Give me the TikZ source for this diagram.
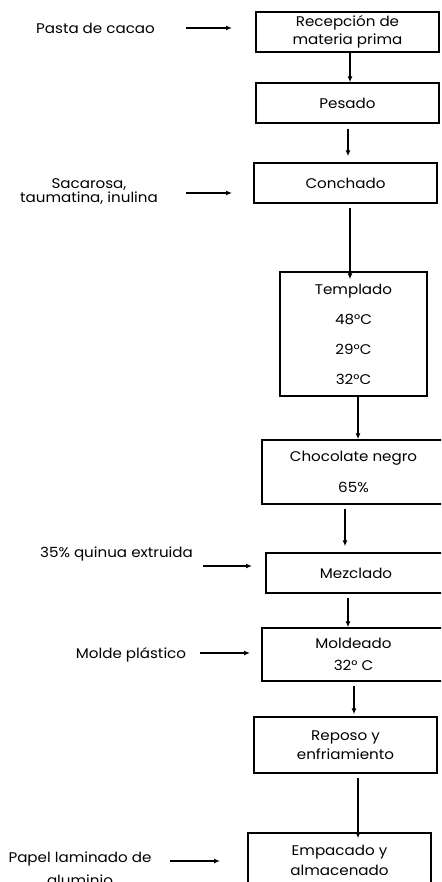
\documentclass[tikz,border=0pt]{standalone}
\usepackage{fontspec}
\setmainfont[FakeStretch=1.08]{Poppins}
\usetikzlibrary{arrows.meta}
\begin{document}
\begin{tikzpicture}[x=1pt,y=-1pt,
  every node/.style={font=\fontsize{14}{18}\selectfont, inner sep=0pt},
  procbox/.style={draw, line width=1.4pt, align=center},
  lab/.style={align=center},
  arr/.style={line width=1.3pt, -{Latex[length=6pt,width=5pt]}}]
\useasboundingbox (0,0) rectangle (441,882);
\clip (0,0) rectangle (441,882);
% process boxes
\node[procbox, minimum width=183pt, minimum height=40pt] (b1) at (347.5,32) {Recepción de\\materia prima};
\node[procbox, minimum width=183pt, minimum height=40pt] (b2) at (347.5,103) {Pesado};
\node[procbox, minimum width=183pt, minimum height=40pt] (b3) at (345.5,183) {Conchado};
\node[procbox, minimum width=147pt, minimum height=124pt] (b4) at (353.5,334) {Templado\\[12pt]48°C\\[12pt]29°C\\[12pt]32°C};
\node[procbox, minimum width=183pt, minimum height=64pt] (b5) at (353.5,472) {Chocolate negro\\[13pt]65\%};
\node[procbox, minimum width=180pt, minimum height=40pt] (b6) at (356,573) {Mezclado};
\node[procbox, minimum width=183pt, minimum height=53pt, font=\fontsize{14}{22}\selectfont] (b7) at (353.5,654.5) {Moldeado\\32° C};
\node[procbox, minimum width=183pt, minimum height=56pt, font=\fontsize{14}{19}\selectfont] (b8) at (345.5,745) {Reposo y\\enfriamiento};
\node[procbox, minimum width=183pt, minimum height=54pt, font=\fontsize{14}{20}\selectfont] (b9) at (339.5,860) {Empacado y\\almacenado};
% input labels
\node[lab] (l1) at (95.5,28) {Pasta de cacao};
\node[lab, font=\fontsize{14}{14}\selectfont] (l2) at (89,192) {Sacarosa,\\taumatina, inulina};
\node[lab] (l3) at (116.5,554) {35\% quinua extruida};
\node[lab] (l4) at (131,655) {Molde plástico};
\node[lab, font=\fontsize{14}{23}\selectfont] (l5) at (80,869) {Papel laminado de\\aluminio};
% free arrow ends
\coordinate (h1s) at (186,28);  \coordinate (h1e) at (232,28);
\coordinate (h2s) at (186,193); \coordinate (h2e) at (232,193);
\coordinate (h3s) at (203,566); \coordinate (h3e) at (252,566);
\coordinate (h4s) at (200,653); \coordinate (h4e) at (250,653);
\coordinate (h5s) at (170,861); \coordinate (h5e) at (220,861);
\draw[arr] (h1s) -- (h1e);
\draw[arr] (h2s) -- (h2e);
\draw[arr] (h3s) -- (h3e);
\draw[arr] (h4s) -- (h4e);
\draw[arr] (h5s) -- (h5e);
% vertical flow arrows
\draw[arr] ([xshift=2.5pt]b1.south) -- ([xshift=2.5pt]b2.north);
\draw[arr, shorten <=5pt, shorten >=6pt] ([xshift=0.5pt]b2.south) -- ([xshift=2.5pt]b3.north);
\draw[arr, shorten <=4pt, shorten >=-8pt] ([xshift=4.5pt]b3.south) -- ([xshift=-3.5pt]b4.north);
\draw[arr] ([xshift=4.5pt]b4.south) -- ([xshift=4.5pt]b5.north);
\draw[arr, shorten <=4pt, shorten >=6pt] ([xshift=-8.5pt]b5.south) -- ([xshift=-11pt]b6.north);
\draw[arr, shorten <=4pt] ([xshift=-8pt]b6.south) -- ([xshift=-5.5pt]b7.north);
\draw[arr, shorten <=4pt, shorten >=2pt] ([xshift=0.5pt]b7.south) -- ([xshift=8.5pt]b8.north);
\draw[arr, shorten <=4pt, shorten >=-6pt] ([xshift=12.5pt]b8.south) -- ([xshift=18.5pt]b9.north);
\end{tikzpicture}
\end{document}
